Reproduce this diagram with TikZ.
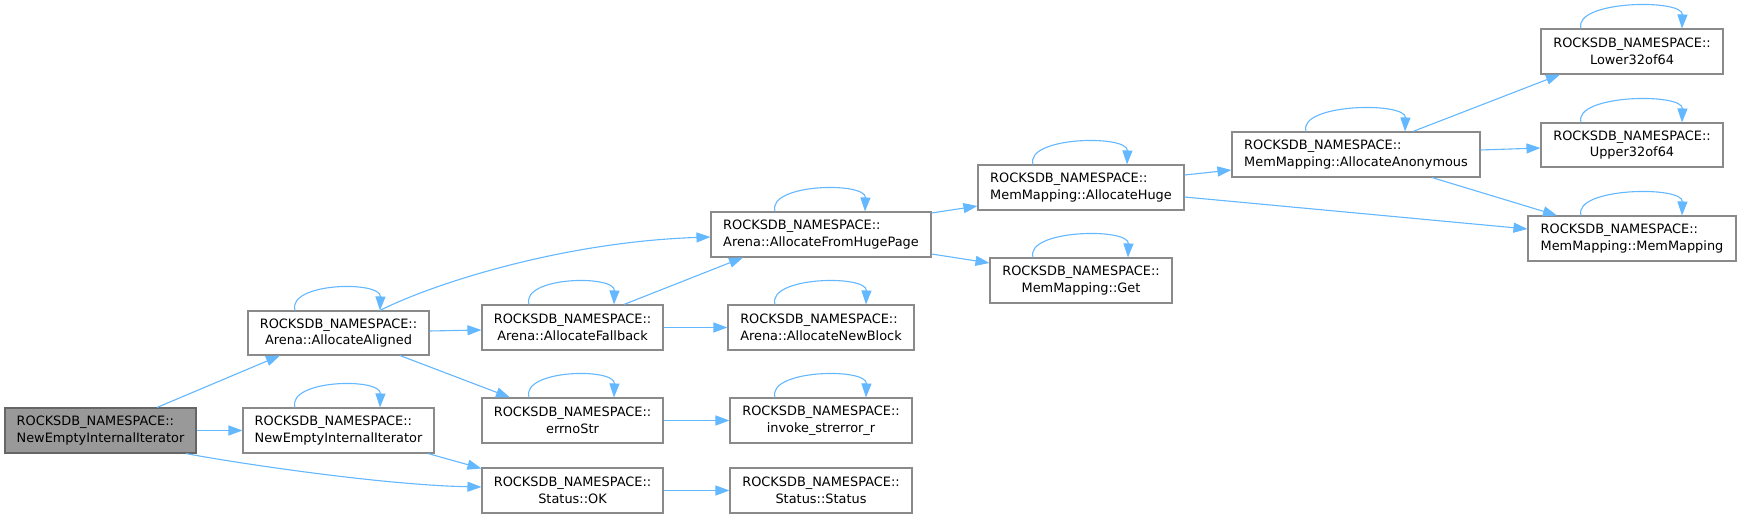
\documentclass[tikz,border=0pt]{standalone}
\usepackage{fontspec}
\setmainfont{DejaVu Sans}
\usetikzlibrary{arrows.meta,calc}
\definecolor{edgeblue}{HTML}{63B8FF}
\definecolor{boxgray}{HTML}{8A8A8A}
\definecolor{rootfill}{HTML}{999999}
\definecolor{rootdraw}{HTML}{666666}
\tikzset{
  fn/.style={draw=boxgray, fill=white, line width=1.1pt, inner sep=0pt,
    minimum height=45pt, align=center,
    font=\fontsize{12.9}{16.7}\selectfont},
  fnl/.style={fn, align=left},
  rootbox/.style={fnl, fill=rootfill, draw=rootdraw},
  edge/.style={draw=edgeblue, line width=1.1pt, -{Triangle[length=14pt,width=10pt]}},
}
\newcommand{\selfloop}[3]{%
  \draw[edge] ($(#1.north)+(#2,0)$) .. controls +(-8,-28) and +(1,-30) .. ($(#1.north)+(#3,0)$);}
\begin{document}
\begin{tikzpicture}[x=1pt,y=-1pt]
\path[fill=white,use as bounding box] (0,0) rectangle (1741,518);

\node[rootbox, minimum width=191pt] (root) at (100.5,430.5) {ROCKSDB\_NAMESPACE::\\NewEmptyInternalIterator};
\node[fn, minimum width=181pt, minimum height=44pt] (aligned) at (338.5,333) {ROCKSDB\_NAMESPACE::\\Arena::AllocateAligned};
\node[fnl, minimum width=191pt] (newempty) at (338.5,430.5) {ROCKSDB\_NAMESPACE::\\NewEmptyInternalIterator};
\node[fnl, minimum width=220pt] (hugepage) at (821,234.5) {ROCKSDB\_NAMESPACE::\\Arena::AllocateFromHugePage};
\node[fn, minimum width=181pt] (fallback) at (572.5,327.5) {ROCKSDB\_NAMESPACE::\\Arena::AllocateFallback};
\node[fnl, minimum width=186pt] (newblock) at (821,327.5) {ROCKSDB\_NAMESPACE::\\Arena::AllocateNewBlock};
\node[fn, minimum width=181pt] (errno) at (572.5,420.5) {ROCKSDB\_NAMESPACE::\\errnoStr};
\node[fn, minimum width=182pt] (invoke) at (821,420.5) {ROCKSDB\_NAMESPACE::\\invoke\_strerror\_r};
\node[fn, minimum width=181pt] (ok) at (572.5,490.5) {ROCKSDB\_NAMESPACE::\\Status::OK};
\node[fn, minimum width=182pt] (status) at (821,490.5) {ROCKSDB\_NAMESPACE::\\Status::Status};
\node[fnl, minimum width=206pt] (allochuge) at (1081,187.5) {ROCKSDB\_NAMESPACE::\\MemMapping::AllocateHuge};
\node[fn, minimum width=182pt] (get) at (1081,280.5) {ROCKSDB\_NAMESPACE::\\MemMapping::Get};
\node[fnl, minimum width=248pt] (anon) at (1356,154.5) {ROCKSDB\_NAMESPACE::\\MemMapping::AllocateAnonymous};
\node[fn, minimum width=182pt] (lower) at (1632,51.5) {ROCKSDB\_NAMESPACE::\\Lower32of64};
\node[fn, minimum width=182pt, minimum height=44pt] (upper) at (1632,145) {ROCKSDB\_NAMESPACE::\\Upper32of64};
\node[fnl, minimum width=208pt] (memmap) at (1632,238.5) {ROCKSDB\_NAMESPACE::\\MemMapping::MemMapping};

% edges
\draw[edge] ($(root.north)+(56.5,0)$) -- ($(aligned.south)+(-58.5,0)$);
\draw[edge] (root.east) -- (newempty.west);
\draw[edge] ($(root.south)+(85.5,0)$) .. controls (230,462) and (380,485) .. ($(ok.west)+(0,-3.5)$);
\draw[edge] ($(newempty.south)+(89.5,0)$) -- ($(ok.west)+(0,-22)$);

\draw[edge] ($(aligned.north)+(41.5,0)$) .. controls (430,285) and (560,242) .. ($(hugepage.west)+(0,2.5)$);
\draw[edge] ($(aligned.east)+(0,-2)$) -- ($(fallback.west)+(0,2.5)$);
\draw[edge] ($(aligned.south)+(61.5,0)$) -- ($(errno.north)+(-62.5,0)$);

\draw[edge] ($(fallback.north)+(51.5,0)$) -- ($(hugepage.south)+(-78,0)$);
\draw[edge] (fallback.east) -- (newblock.west);
\draw[edge] (errno.east) -- (invoke.west);
\draw[edge] (ok.east) -- (status.west);

\draw[edge] ($(hugepage.east)+(0,-21.5)$) -- ($(allochuge.west)+(0,18.5)$);
\draw[edge] ($(hugepage.east)+(0,19.5)$) -- ($(get.west)+(0,-17.5)$);

\draw[edge] ($(allochuge.east)+(0,-12.5)$) -- ($(anon.west)+(0,15.5)$);
\draw[edge] ($(allochuge.east)+(0,9.5)$) -- ($(memmap.west)+(0,-9.5)$);

\draw[edge] ($(anon.north)+(57,0)$) -- ($(lower.south)+(-72,0)$);
\draw[edge] ($(anon.east)+(0,-4.5)$) -- ($(upper.west)+(0,3)$);
\draw[edge] ($(anon.south)+(76,0)$) -- ($(memmap.north)+(-75,0)$);

% self loops
\selfloop{aligned}{-43.5}{41.5}
\selfloop{newempty}{-43.5}{41.5}
\selfloop{hugepage}{-46}{44}
\selfloop{fallback}{-43.5}{41.5}
\selfloop{newblock}{-46}{45}
\selfloop{errno}{-43.5}{41.5}
\selfloop{invoke}{-46}{45}
\selfloop{allochuge}{-48}{46}
\selfloop{get}{-48}{47}
\selfloop{anon}{-50}{49}
\selfloop{lower}{-51}{50}
\selfloop{upper}{-51}{50}
\selfloop{memmap}{-51}{50}
\end{tikzpicture}
\end{document}
